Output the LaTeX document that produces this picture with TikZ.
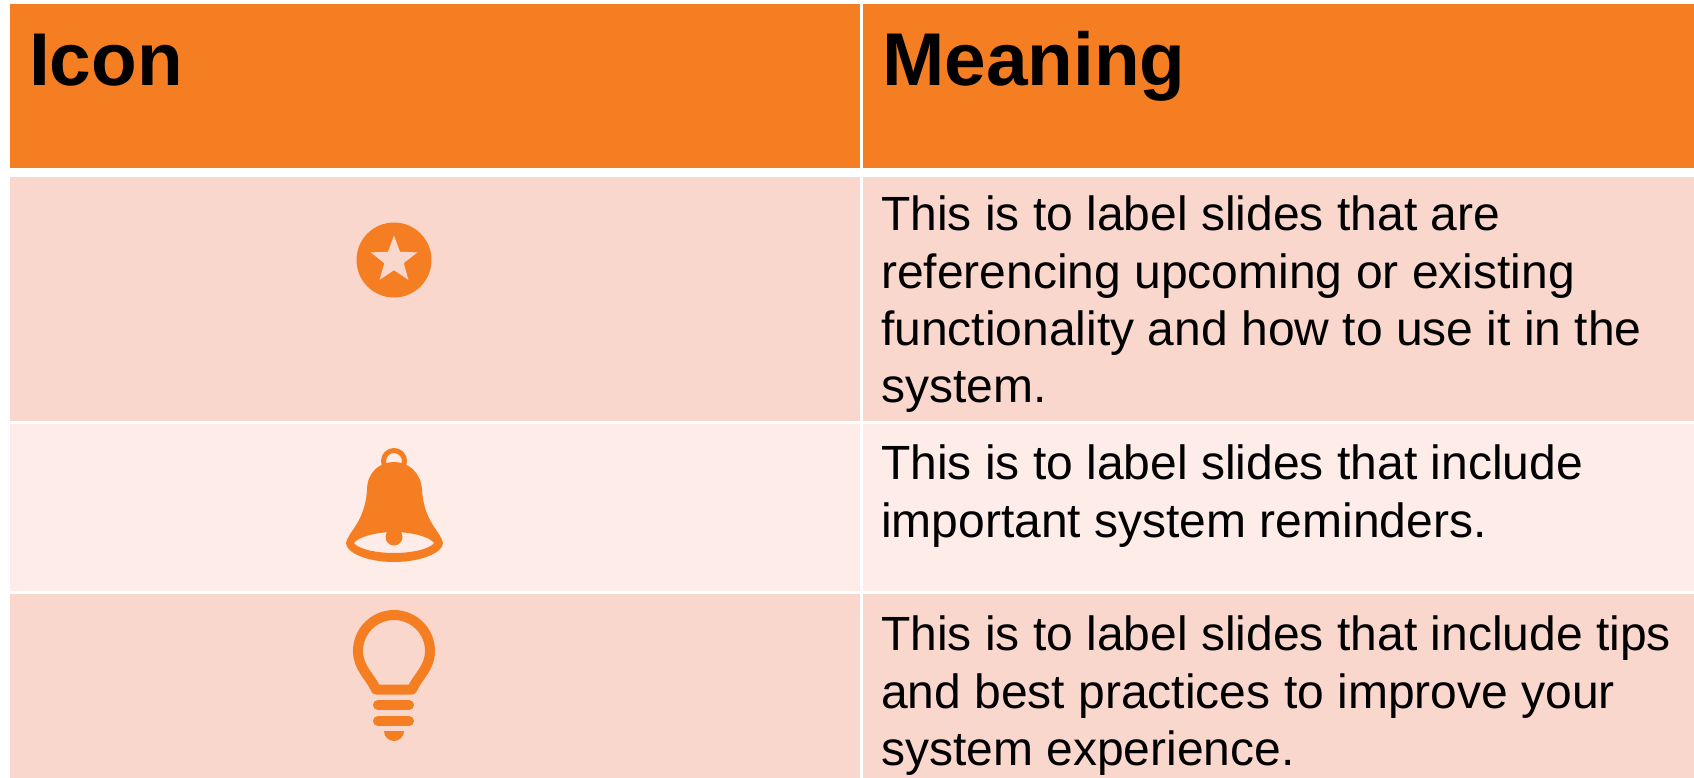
\documentclass[tikz,border=0pt]{standalone}
\usepackage{fontspec}
\setmainfont{Liberation Sans}
\definecolor{TabOrange}{HTML}{F67E22}
\definecolor{RowDark}{HTML}{F9D7CD}
\definecolor{RowLight}{HTML}{FDECE8}
\begin{document}
\begin{tikzpicture}[
	x=1pt, y=-1pt,
	Cell/.style={rectangle, anchor=north west, inner sep=0pt, outer sep=0pt},
	HeadText/.style={anchor=base west, inner sep=0pt, font=\fontsize{74.8}{86}\selectfont\bfseries},
	BodyText/.style={anchor=north west, inner sep=0pt, align=left, font=\fontsize{48}{57.2}\selectfont},
	Icon/.style={fill=TabOrange, draw=none},
	IconLine/.style={draw=TabOrange, line width=10pt, line join=round}
	]
\useasboundingbox (0,0) rectangle (1694,778);

\node [Cell, fill=TabOrange, minimum width=850pt, minimum height=164pt] (headicon) at (10,4) {};
\node [Cell, fill=TabOrange, minimum width=831pt, minimum height=164pt] (headmeaning) at (863,4) {};
\node [Cell, fill=RowDark, minimum width=850pt, minimum height=244pt] (staricon) at (10,177) {};
\node [Cell, fill=RowDark, minimum width=831pt, minimum height=244pt] (startext) at (863,177) {};
\node [Cell, fill=RowLight, minimum width=850pt, minimum height=167pt] (bellicon) at (10,424) {};
\node [Cell, fill=RowLight, minimum width=831pt, minimum height=167pt] (belltext) at (863,424) {};
\node [Cell, fill=RowDark, minimum width=850pt, minimum height=184pt] (bulbicon) at (10,594) {};
\node [Cell, fill=RowDark, minimum width=831pt, minimum height=184pt] (bulbtext) at (863,594) {};

\node [HeadText] (icontitle) at (29,86) {Icon};
\node [HeadText] (meaningtitle) at (882,86) {Meaning};

\node [BodyText] (staritem) at (881,196) {This is to label slides that are\\referencing upcoming or existing\\functionality and how to use it in the\\system.};
\node [BodyText] (bellitem) at (881,445) {This is to label slides that include\\important system reminders.};
\node [BodyText] (bulbitem) at (881,616) {This is to label slides that include tips\\and best practices to improve your\\system experience.};

% star
\fill [TabOrange] (394,260) circle [radius=37.5];
\fill [RowDark] (394,235.5)
	\foreach \a in {1,...,9} {
		-- ({394+(mod(\a,2)==1 ? 10.2 : 24.5)*sin(\a*36)}, {260-(mod(\a,2)==1 ? 10.2 : 24.5)*cos(\a*36)})
	} -- cycle;

% bell
\draw [draw=TabOrange, line width=5pt] (394,461) circle [radius=10.5];
\fill [Icon, even odd rule] (346,543)
	.. controls (348,532) and (365,522) .. (367,490)
	.. controls (367,472) and (380,462) .. (394,462)
	.. controls (408,462) and (421,472) .. (422,490)
	.. controls (424,522) and (441,532) .. (443,543)
	.. controls (443,553) and (420,562) .. (394,562)
	.. controls (368,562) and (346,553) .. (346,543) -- cycle
	(354,543) .. controls (358,537) and (376,532) .. (394,532)
	.. controls (412,532) and (430,537) .. (434,543)
	.. controls (430,549) and (412,553) .. (394,553)
	.. controls (376,553) and (358,549) .. (354,543) -- cycle;
\fill [Icon] (394,537) circle [radius=8.5];

% bulb
\draw [IconLine] (376,689.5) -- (412,689.5)
	.. controls (418,676) and (430,668) .. (430,651)
	arc [start angle=0, end angle=-180, radius=36]
	.. controls (358,668) and (370,676) .. (376,689.5) -- cycle;
\draw [draw=TabOrange, line width=10pt, line cap=round] (378,705) -- (409,705);
\draw [draw=TabOrange, line width=10pt, line cap=round] (378,721) -- (409,721);
\fill [Icon] (384,731) -- (404,731) arc [start angle=0, end angle=180, radius=10] -- cycle;
\end{tikzpicture}
\end{document}
